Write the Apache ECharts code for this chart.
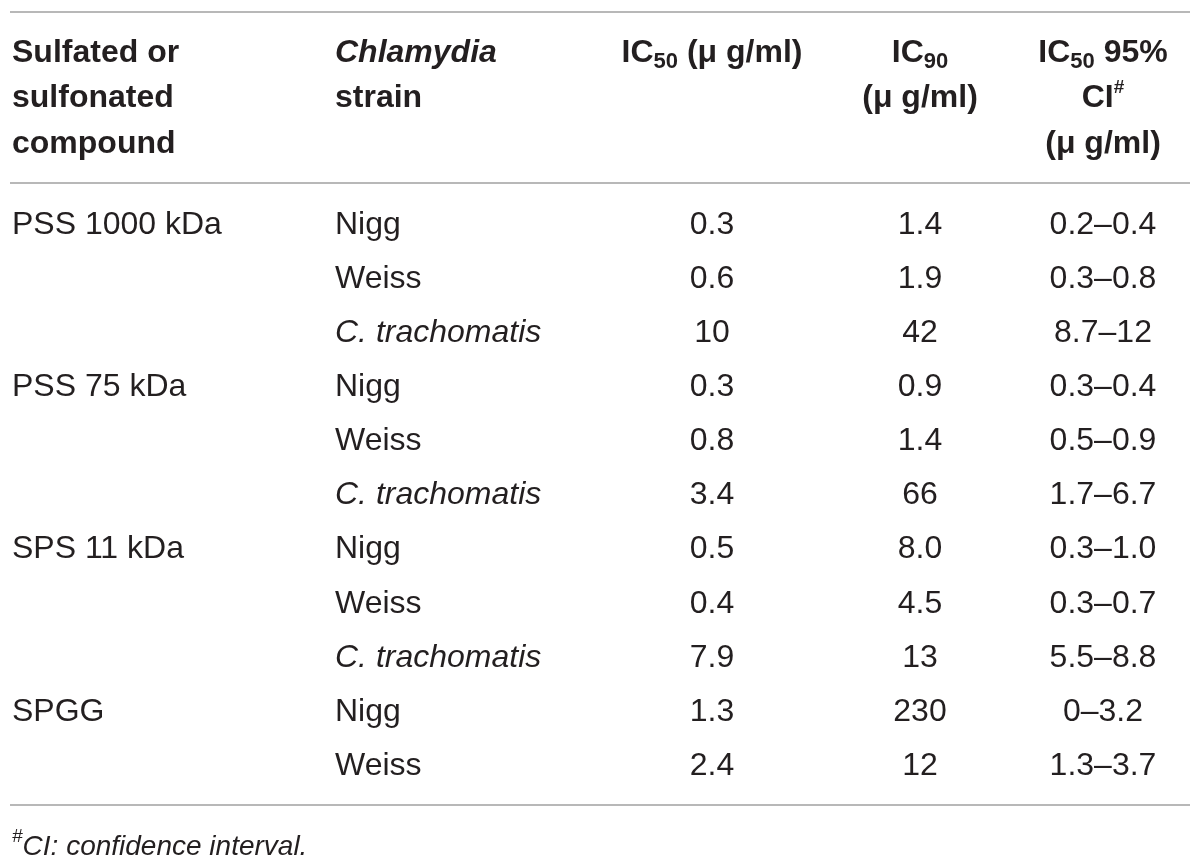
<!DOCTYPE html>
<html lang="en">

<head>
    <title>IC50 table</title>
    <meta charset="UTF-8">
    <script src="https://cdn.jsdelivr.net/npm/echarts@6/dist/echarts.min.js"></script>
    <style>
        body { margin: 0; background: #fff; }
        #table { width: 1200px; height: 866px; }
    </style>
</head>

<body>
    <div id="table"></div>

    <script>
        // table content
        var compounds = ['PSS 1000 kDa', '', '', 'PSS 75 kDa', '', '', 'SPS 11 kDa', '', '', 'SPGG', ''];
        var strains = ['Nigg', 'Weiss', 'C. trachomatis', 'Nigg', 'Weiss', 'C. trachomatis',
            'Nigg', 'Weiss', 'C. trachomatis', 'Nigg', 'Weiss'];
        var ic50 = ['0.3', '0.6', '10', '0.3', '0.8', '3.4', '0.5', '0.4', '7.9', '1.3', '2.4'];
        var ic90 = ['1.4', '1.9', '42', '0.9', '1.4', '66', '8.0', '4.5', '13', '230', '12'];
        var ci95 = ['0.2–0.4', '0.3–0.8', '8.7–12', '0.3–0.4', '0.5–0.9', '1.7–6.7',
            '0.3–1.0', '0.3–0.7', '5.5–8.8', '0–3.2', '1.3–3.7'];
        // header lines per column (rich text)
        var headers = [
            ['{b|Sulfated or}', '{b|sulfonated}', '{b|compound}'],
            ['{bi|Chlamydia}', '{b|strain}'],
            ['{b|IC}{sub|50}{b| (μ g/ml)}'],
            ['{b|IC}{sub|90}', '{b|(μ g/ml)}'],
            ['{b|IC}{sub|50}{b| 95%}', '{b|CI}{sup|#}', '{b|(μ g/ml)}']
        ];
        var footnote = '{fsup|#}{fi|CI: confidence interval.}';

        // layout (grid coords, px)
        var colX = [2, 325, 702, 910, 1093];
        var colAlign = ['left', 'left', 'center', 'center', 'center'];
        var headY = [53, 98, 144];
        var rowY0 = 225, rowH = 54.1;
        var rules = [12, 183, 805];
        var footY = 847;

        var ink = '#231f20';
        var font = 'Liberation Sans';
        var rich = {
            b: { fontSize: 32, fontWeight: 'bold', color: ink, fontFamily: font, lineHeight: 40, verticalAlign: 'middle' },
            bi: { fontSize: 32, fontWeight: 'bold', fontStyle: 'italic', color: ink, fontFamily: font, lineHeight: 40 },
            sub: { fontSize: 22, fontWeight: 'bold', color: ink, fontFamily: font, lineHeight: 20, verticalAlign: 'bottom' },
            sup: { fontSize: 19, fontWeight: 'bold', color: ink, fontFamily: font, lineHeight: 20, verticalAlign: 'top' },
            fi: { fontSize: 28, fontStyle: 'italic', color: ink, fontFamily: font, lineHeight: 40 },
            fsup: { fontSize: 19, fontStyle: 'italic', color: ink, fontFamily: font, lineHeight: 20, verticalAlign: 'top' }
        };

        var cells = [];
        var addCell = function (col, y, text, extra) {
            var label = Object.assign({ formatter: text, align: colAlign[col] }, extra || {});
            cells.push({ value: [colX[col], y], label: label });
        };
        headers.forEach(function (lines, col) {
            lines.forEach(function (t, li) {
                addCell(col, headY[li], t);
            });
        });
        var bodyCols = [compounds, strains, ic50, ic90, ci95];
        bodyCols.forEach(function (arr, col) {
            arr.forEach(function (t, r) {
                if (t === '') return;
                var extra = (col === 1 && t.indexOf('C. ') === 0) ? { fontStyle: 'italic' } : null;
                addCell(col, rowY0 + rowH * r, t, extra);
            });
        });
        addCell(0, footY, footnote);

        var option = {
            animation: false,
            grid: { left: 10, right: 10, top: 0, bottom: 0 },
            xAxis: { type: 'value', min: 0, max: 1180, show: false },
            yAxis: { type: 'value', min: 0, max: 866, inverse: true, show: false },
            series: [{
                type: 'scatter',
                symbolSize: 0,
                silent: true,
                itemStyle: { opacity: 1 },
                label: {
                    show: true,
                    position: 'inside',
                    verticalAlign: 'middle',
                    fontFamily: font,
                    fontSize: 32,
                    color: ink,
                    opacity: 1,
                    rich: rich
                },
                data: cells,
                markLine: {
                    silent: true,
                    symbol: 'none',
                    label: { show: false },
                    lineStyle: { color: '#b8b8b8', width: 2, type: 'solid', opacity: 1 },
                    data: rules.map(function (y) { return { yAxis: y }; })
                }
            }]
        };
        var myChart = echarts.init(document.getElementById('table'));
        myChart.setOption(option);
    </script>
</body>

</html>
